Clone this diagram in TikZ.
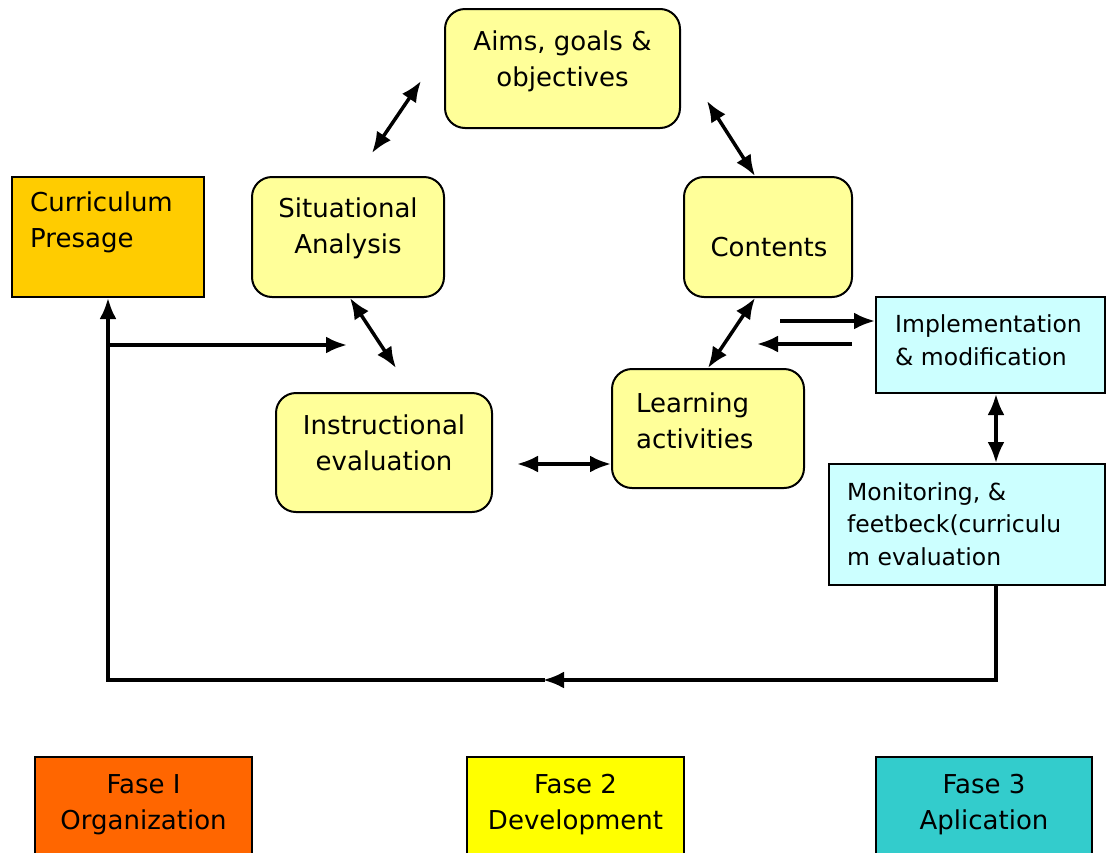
\documentclass[tikz,border=0pt]{standalone}
\usepackage{fontspec}
\setmainfont{DejaVu Sans}
\usetikzlibrary{arrows.meta}

\definecolor{paleyellow}{HTML}{FFFF99}
\definecolor{presagegold}{HTML}{FFCC00}
\definecolor{palecyan}{HTML}{CCFFFF}
\definecolor{faseorange}{HTML}{FF6600}
\definecolor{faseyellow}{HTML}{FFFF00}
\definecolor{faseteal}{HTML}{33CCCC}

\newcommand{\boxfont}{\fontsize{26}{36}\selectfont}
\newcommand{\cyanfont}{\fontsize{23.5}{32.5}\selectfont}

\tikzset{
  stagebox/.style={draw, line width=2pt, rounded corners=20pt, fill=paleyellow, inner sep=0pt},
  flatbox/.style={draw, line width=2pt, inner sep=0pt},
  boxtext/.style={inner sep=0pt, font=\boxfont, align=center},
  cyantext/.style={inner sep=0pt, font=\cyanfont, align=left, anchor=west},
  link/.style={line width=3.5pt, {Latex[length=21pt,width=17pt]}-{Latex[length=21pt,width=17pt]}},
  oneway/.style={line width=3.5pt, -{Latex[length=21pt,width=17pt]}},
  loopline/.style={line width=3.5pt}
}

\begin{document}
\begin{tikzpicture}[x=1pt,y=-1pt]
\useasboundingbox (0,0) rectangle (1106,852);

% boxes of the cycle
\node[stagebox, minimum width=235pt, minimum height=119pt] (aims) at (562.5,68.5) {};
\node[stagebox, minimum width=192pt, minimum height=120pt] (situ) at (348,237) {};
\node[stagebox, minimum width=168pt, minimum height=120pt] (cont) at (768,237) {};
\node[stagebox, minimum width=216pt, minimum height=119pt] (instr) at (384,452.5) {};
\node[stagebox, minimum width=192pt, minimum height=119pt] (learn) at (708,428.5) {};

\node[flatbox, fill=presagegold, minimum width=192pt, minimum height=120pt] (pres) at (108,237) {};
\node[flatbox, fill=palecyan, minimum width=229pt, minimum height=96pt] (impl) at (990.5,345) {};
\node[flatbox, fill=palecyan, minimum width=276pt, minimum height=121pt] (moni) at (967,524.5) {};

% texts
\node[boxtext] (aimsT) at (562.5,61) {Aims, goals \&\\objectives};
\node[boxtext] (situT) at (348,228) {Situational\\Analysis};
\node[boxtext] (contT) at (769,247) {Contents};
\node[boxtext] (instrT) at (384,443) {Instructional\\evaluation};
\node[boxtext, align=left, anchor=west] (learnT) at (636,421) {Learning\\activities};
\node[boxtext, align=left, anchor=west] (presT) at (30,222) {Curriculum\\Presage};
\node[cyantext] (implT) at (895,340) {Implementation\\\& modification};
\node[cyantext] (moniT) at (847,524) {Monitoring, \&\\feetbeck(curriculu\\m evaluation};

% phases
\node[flatbox, fill=faseorange, minimum width=217pt, minimum height=110pt] (fase1) at (143.5,812) {};
\node[flatbox, fill=faseyellow, minimum width=217pt, minimum height=110pt] (fase2) at (575.5,812) {};
\node[flatbox, fill=faseteal, minimum width=216pt, minimum height=110pt] (fase3) at (984,812) {};
\node[boxtext] (fase1T) at (143.5,805) {Fase I\\Organization};
\node[boxtext] (fase2T) at (575.5,805) {Fase 2\\Development};
\node[boxtext] (fase3T) at (984,805) {Fase 3\\Aplication};

% free arrow ends
\coordinate (aimsSW) at (421,81);
\coordinate (situNE) at (372,153);
\coordinate (aimsSE) at (707,101);
\coordinate (instrN) at (396,368);
\coordinate (instrE) at (517,464);
\coordinate (implInA) at (780,321);
\coordinate (implOutB) at (757,344);
\coordinate (loopR) at (996,680);
\coordinate (loopM) at (543,680);
\coordinate (loopL) at (108,680);
\coordinate (branch) at (108,345);
\coordinate (branchE) at (347,345);

% arrows of the cycle
\draw[link] (situNE) -- (aimsSW);
\draw[link] (aimsSE) -- (cont.north -| 755,0);
\draw[link] (situ.south -| 350,0) -- (instrN);
\draw[link] (cont.south -| 755,0) -- (learn.north -| 708,0);
\draw[link] (instrE) -- (learn.west |- 0,464);
\draw[oneway] (implInA) -- (impl.west |- implInA);
\draw[oneway] (impl.west |- 0,344) ++(-23,0) -- (implOutB);
\draw[link] (impl.south -| 996,0) -- (moni.north -| 996,0);

% feedback loop
\draw[loopline, -{Latex[length=21pt,width=17pt]}] (moni.south -| loopR) -- (loopR) -- (loopM);
\draw[loopline, line cap=rect, -{Latex[length=21pt,width=17pt]}] (loopM) -- (loopL) -- (pres.south -| loopL);
\draw[oneway] (branch) -- (branchE);
\end{tikzpicture}
\end{document}
